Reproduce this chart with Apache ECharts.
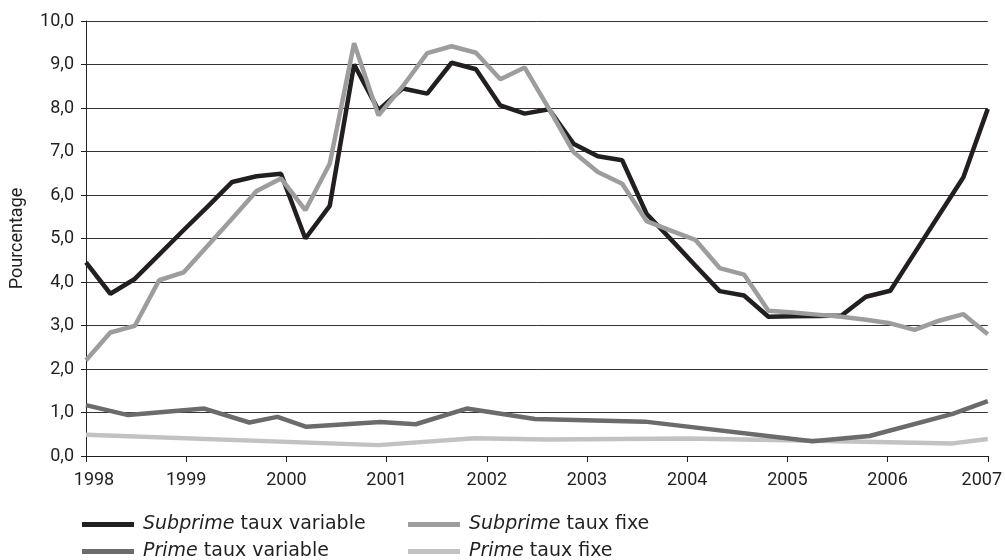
<!DOCTYPE html>
<html>
<head>
<meta charset="utf-8">
<script src="https://cdn.jsdelivr.net/npm/echarts@6/dist/echarts.min.js"></script>
<style>
  html, body { margin: 0; padding: 0; background: #fff; }
  #chart { width: 1005px; height: 560px; }
</style>
</head>
<body>
<div id="chart"></div>
<script>
  // tick labels
  const years = [1998, 1999, 2000, 2001, 2002, 2003, 2004, 2005, 2006, 2007];

  // subprime: 38 points spread evenly from 1998 to 2007
  const subprimeVariable = [4.45, 3.73, 4.07, 4.63, 5.19, 5.74, 6.30, 6.43, 6.49, 5.00,
    5.75, 9.00, 7.95, 8.45, 8.33, 9.04, 8.89, 8.06, 7.87, 7.97,
    7.18, 6.89, 6.80, 5.57, 4.98, 4.38, 3.79, 3.69, 3.20, 3.21,
    3.22, 3.23, 3.66, 3.80, 4.67, 5.54, 6.41, 7.98];
  const subprimeFixe = [2.20, 2.84, 2.99, 4.04, 4.22, 4.84, 5.46, 6.09, 6.38, 5.65,
    6.72, 9.49, 7.83, 8.50, 9.26, 9.42, 9.27, 8.66, 8.93, 7.98,
    6.99, 6.53, 6.26, 5.40, 5.18, 4.97, 4.32, 4.17, 3.34, 3.30,
    3.25, 3.20, 3.13, 3.05, 2.90, 3.11, 3.26, 2.80];

  // prime: read at the vertices of the curves
  const primeVarDates = [1998.0, 1998.42, 1999.18, 1999.63, 1999.91, 2000.2, 2000.94, 2001.29,
    2001.8, 2002.48, 2003.58, 2005.25, 2005.82, 2006.65, 2007.0];
  const primeVariable = [1.17, 0.94, 1.09, 0.77, 0.90, 0.67, 0.78, 0.73,
    1.09, 0.85, 0.79, 0.34, 0.46, 0.97, 1.26];
  const primeFixDates = [1998.0, 2000.92, 2001.88, 2002.6, 2004.0, 2005.0, 2006.65, 2007.0];
  const primeFixe = [0.49, 0.25, 0.41, 0.38, 0.40, 0.36, 0.29, 0.39];

  const subDates = subprimeVariable.map((_, i) => 1998 + i * 9 / 37);
  const pairs = (xs, ys) => ys.map((v, i) => [xs[i], v]);

  const font = 'DejaVu Sans';
  const axisFont = 'Roboto';
  const ink = '#231f20';

  const legendText = {
    fontFamily: font,
    fontSize: 19,
    color: ink,
    lineHeight: 21,
    padding: [0, 0, 0, 4],
    rich: {
      it: { fontFamily: font, fontSize: 19, color: ink, fontStyle: 'italic', lineHeight: 21 }
    }
  };
  const legendFormatter = name => {
    let parts = name.split(' ');
    return '{it|' + parts[0] + '} ' + parts.slice(1).join(' ');
  };

  let chart = echarts.init(document.getElementById('chart'));
  chart.setOption({
    animation: false,
    backgroundColor: '#fff',
    grid: { left: 86, right: 14, top: 21, bottom: 104 },
    legend: [
      {
        orient: 'vertical', left: 82, top: 514, height: 70, itemGap: 6, padding: 0,
        icon: 'rect', itemWidth: 52, itemHeight: 5,
        data: ['Subprime taux variable', 'Prime taux variable'],
        textStyle: legendText, formatter: legendFormatter
      },
      {
        orient: 'vertical', left: 408, top: 514, height: 70, itemGap: 6, padding: 0,
        icon: 'rect', itemWidth: 52, itemHeight: 5,
        data: ['Subprime taux fixe', 'Prime taux fixe'],
        textStyle: legendText, formatter: legendFormatter
      }
    ],
    xAxis: {
      type: 'value',
      min: years[0],
      max: years[years.length - 1],
      interval: 1,
      axisLine: { lineStyle: { color: ink, width: 1 } },
      axisTick: { length: 6, lineStyle: { color: ink } },
      axisLabel: {
        margin: 15, fontFamily: axisFont, fontSize: 18, color: ink,
        formatter: v => {
          if (v === years[0]) return '{first|' + v + '}';
          if (v === years[years.length - 1]) return '{last|' + v + '}';
          return years.includes(v) ? String(v) : '';
        },
        rich: {
          first: { fontFamily: axisFont, fontSize: 18, color: ink, padding: [0, 0, 0, 16] },
          last: { fontFamily: axisFont, fontSize: 18, color: ink, padding: [0, 12, 0, 0] }
        }
      },
      splitLine: { show: false }
    },
    yAxis: {
      type: 'value',
      min: 0,
      max: 10,
      interval: 1,
      name: 'Pourcentage',
      nameLocation: 'middle',
      nameGap: 60,
      nameTextStyle: { fontFamily: axisFont, fontSize: 18, color: ink },
      axisLine: { show: true, lineStyle: { color: ink, width: 1 } },
      axisTick: { show: true, length: 5, lineStyle: { color: ink } },
      axisLabel: {
        margin: 12, fontFamily: axisFont, fontSize: 18, color: ink,
        formatter: v => v.toFixed(1).replace('.', ',')
      },
      splitLine: { lineStyle: { color: '#333', width: 1 } }
    },
    series: [
      {
        name: 'Prime taux fixe', type: 'line', showSymbol: false,
        data: pairs(primeFixDates, primeFixe),
        lineStyle: { color: '#c2c2c2', width: 4.5 }, itemStyle: { color: '#c2c2c2' }
      },
      {
        name: 'Prime taux variable', type: 'line', showSymbol: false,
        data: pairs(primeVarDates, primeVariable),
        lineStyle: { color: '#6b6b6b', width: 4.5 }, itemStyle: { color: '#6b6b6b' }
      },
      {
        name: 'Subprime taux variable', type: 'line', showSymbol: false,
        data: pairs(subDates, subprimeVariable),
        lineStyle: { color: ink, width: 4.5 }, itemStyle: { color: ink }
      },
      {
        name: 'Subprime taux fixe', type: 'line', showSymbol: false,
        data: pairs(subDates, subprimeFixe),
        lineStyle: { color: '#9d9d9d', width: 4.5 }, itemStyle: { color: '#9d9d9d' }
      }
    ]
  });
</script>
</body>
</html>
